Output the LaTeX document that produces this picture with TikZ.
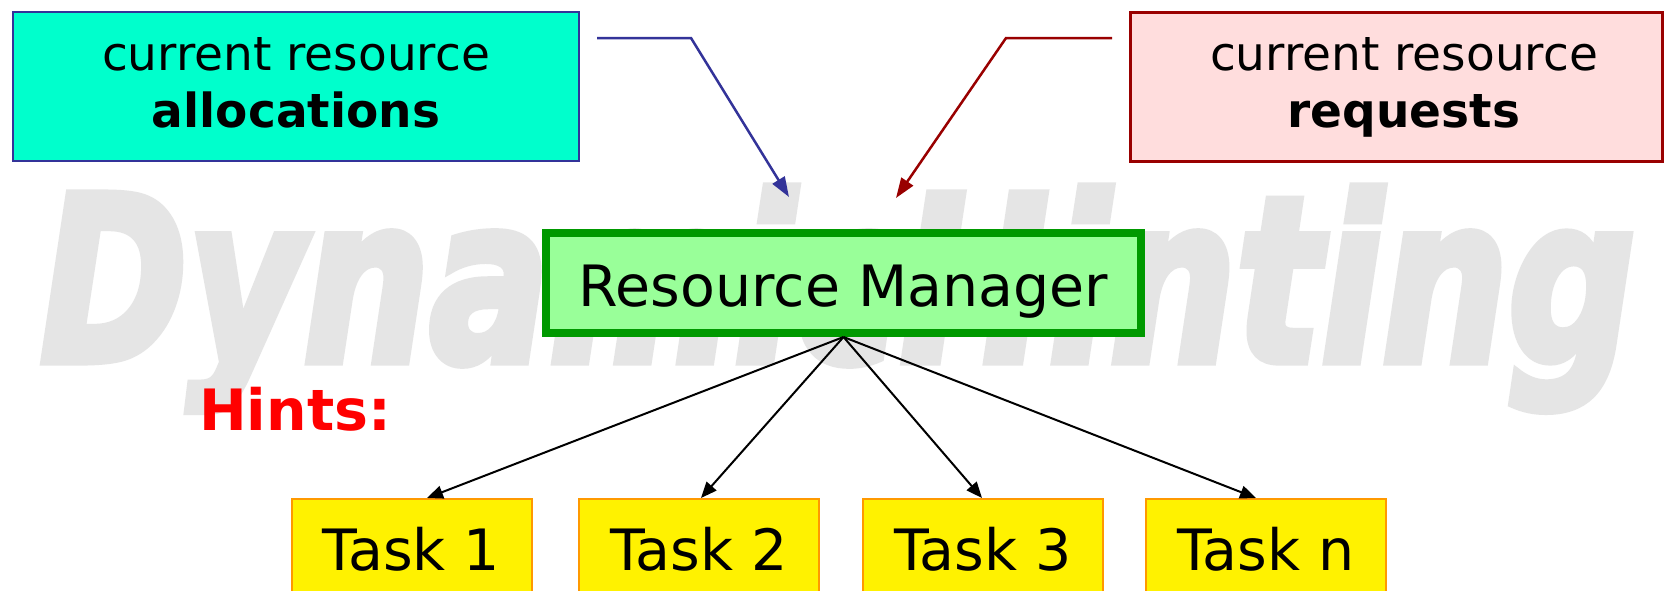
\documentclass[tikz,border=0pt]{standalone}
\usepackage{fontspec}
\setmainfont{DejaVu Sans}
\newfontfamily\wmfont[FakeBold=4]{DejaVu Sans}
\usetikzlibrary{arrows.meta,calc}
\definecolor{wmgray}{RGB}{229,229,229}
\definecolor{allocfill}{RGB}{0,255,204}
\definecolor{allocline}{RGB}{51,51,153}
\definecolor{reqfill}{RGB}{255,221,221}
\definecolor{reqline}{RGB}{153,0,0}
\definecolor{rmfill}{RGB}{153,255,153}
\definecolor{rmline}{RGB}{0,153,0}
\definecolor{taskline}{RGB}{255,153,0}
\tikzset{
  topbox/.style={draw, rectangle, inner sep=0pt, minimum height=149pt},
  alloctext/.style={anchor=base, inner sep=0pt, font=\fontsize{47}{57}\selectfont},
  rmbox/.style={draw=rmline, fill=rmfill, line width=8pt, rectangle, minimum width=595pt, minimum height=100pt,
     font=\fontsize{57}{66}\selectfont, text height=58pt, text depth=12pt, inner sep=0pt},
  taskbox/.style={draw=taskline, fill=yellow, line width=2pt, rectangle, minimum width=240pt, minimum height=121pt,
     font=\fontsize{57}{66}\selectfont, text height=42pt, text depth=21pt, inner sep=0pt},
  taskarrow/.style={draw=black, line width=2pt, -{Triangle[length=16pt,width=13pt]}},
  allocarrow/.style={draw=allocline, line width=2.5pt, -{Triangle[length=20pt,width=14pt]}},
  reqarrow/.style={draw=reqline, line width=2.5pt, -{Triangle[length=20pt,width=14pt]}},
}
\begin{document}
\begin{tikzpicture}[x=1pt,y=-1pt]
\useasboundingbox (0,0) rectangle (1664,590);
\clip (0,0) rectangle (1664,590);
\fill[white] (0,0) rectangle (1664,590);
% watermark
\node[anchor=base west, inner sep=0pt, text=wmgray] (wm) at (40,361)
  {\scalebox{0.775}[1]{\wmfont\fontsize{229}{235}\selectfont\bfseries\itshape DynamicHinting}};
% top boxes
\node[topbox, draw=allocline, fill=allocfill, line width=2.5pt, minimum width=566pt] (alloc) at (296,86.5) {};
\node[alloctext] (alloc1) at (296,70) {current resource};
\node[alloctext, font=\fontsize{47}{57}\selectfont\bfseries] (alloc2) at (296,127) {allocations};
\node[topbox, draw=reqline, fill=reqfill, line width=3pt, minimum width=532pt] (req) at (1396.5,86.5) {};
\node[alloctext] (req1) at (1404,70) {current resource};
\node[alloctext, font=\fontsize{47}{57}\selectfont\bfseries] (req2) at (1404,127) {requests};
% connectors from top boxes
\coordinate (a0) at (597,38);
\coordinate (a1) at (691,38);
\coordinate (a2) at (789,197);
\draw[allocarrow] (a0) -- (a1) -- (a2);
\coordinate (r0) at (1112,38);
\coordinate (r1) at (1006,38);
\coordinate (r2) at (896,198);
\draw[reqarrow] (r0) -- (r1) -- (r2);
% resource manager
\node[rmbox] (rm) at (843.5,283) {Resource Manager};
% hints
\node[anchor=base west, inner sep=0pt, text=red, font=\fontsize{57}{66}\selectfont\bfseries] (hints) at (199,430) {Hints:};
% tasks
\node[taskbox] (t1) at (411.5,559.5) {Task 1};
\node[taskbox] (t2) at (699,559.5) {Task 2};
\node[taskbox] (t3) at (983,559.5) {Task 3};
\node[taskbox] (tn) at (1266,559.5) {Task n};
\draw[taskarrow] (rm.south) -- ($(t1.north)+(15.5,0)$);
\draw[taskarrow] (rm.south) -- ($(t2.north)+(2,0)$);
\draw[taskarrow] (rm.south) -- ($(t3.north)+(-1,0)$);
\draw[taskarrow] (rm.south) -- ($(tn.north)+(-10,0)$);
\end{tikzpicture}
\end{document}
